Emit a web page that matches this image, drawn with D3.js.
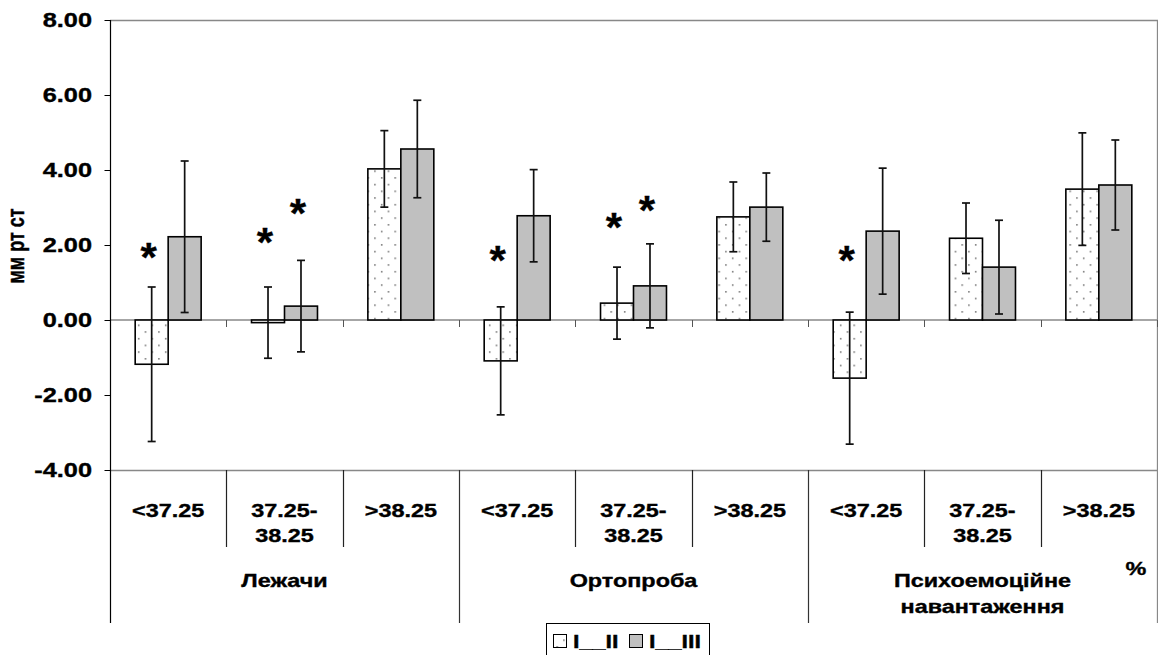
<!DOCTYPE html>
<html>
<head>
<meta charset="utf-8">
<script src="https://cdn.jsdelivr.net/npm/d3@7"></script>
<style>
  body { margin: 0; background: #fff; }
  svg { display: block; font-family: "Liberation Sans", Arial, sans-serif; font-weight: bold; }
  text { stroke: #000; stroke-width: 0.35px; }
</style>
</head>
<body>
<svg id="chart" width="1158" height="655"></svg>
<script>
// ---- data ----
const groups = ["Лежачи", "Ортопроба", "Психоемоційне навантаження"];
const subgroups = ["<37.25", "37.25-38.25", ">38.25"];
const seriesNames = ["I__II", "I__III"];
const valuesI_II  = [-1.18, -0.07, 4.03, -1.09, 0.45, 2.75, -1.55, 2.18, 3.49];
const errorsI_II  = [2.06, 0.95, 1.02, 1.44, 0.96, 0.93, 1.76, 0.94, 1.50];
const valuesI_III = [2.22, 0.37, 4.56, 2.78, 0.91, 3.01, 2.37, 1.41, 3.60];
const errorsI_III = [2.02, 1.22, 1.30, 1.23, 1.12, 0.91, 1.68, 1.25, 1.20];
const yTicks = [-4, -2, 0, 2, 4, 6, 8];
// significance marks: category index, series index, level (mm)
const starCategory = [0, 1, 1, 3, 4, 4, 6];
const starSeries   = [0, 0, 1, 0, 0, 1, 0];
const starLevel    = [1.80, 2.20, 2.95, 1.70, 2.60, 3.05, 1.70];
const yTitle = "мм рт ст";
const unitLabel = "%";

// ---- layout ----
const svg = d3.select("#chart");
const plotLeft = 110, plotRight = 1157, plotTop = 20, plotBottom = 470;
const SX = 1.3; // horizontal stretch applied to labels
const FS = 18;

const categories = [];
groups.forEach((g, gi) => subgroups.forEach((s, si) => categories.push({ g, gi, s, si, idx: gi * 3 + si })));

const y = d3.scaleLinear().domain([-4, 8]).range([plotBottom, plotTop]);
const x0 = d3.scaleBand().domain(d3.range(categories.length)).range([plotLeft, plotRight]).padding(0);
const groupFrac = 0.567;
const x1 = d3.scaleBand().domain(seriesNames).range([0, x0.bandwidth() * groupFrac]).padding(0);
const groupOffset = x0.bandwidth() * (1 - groupFrac) / 2;
const edge = i => (i < categories.length ? x0(i) : plotRight);

const series = [
  { name: seriesNames[0], values: valuesI_II, errors: errorsI_II, fill: "url(#dots)" },
  { name: seriesNames[1], values: valuesI_III, errors: errorsI_III, fill: "#c0c0c0" }
];

// dotted fill pattern
const defs = svg.append("defs");
const pat = defs.append("pattern").attr("id", "dots").attr("patternUnits", "userSpaceOnUse")
  .attr("width", 13.5).attr("height", 13.4);
pat.append("rect").attr("width", 13.5).attr("height", 13.4).attr("fill", "#fff");
pat.append("rect").attr("x", 3).attr("y", 3).attr("width", 1.4).attr("height", 1.4).attr("fill", "#555");
pat.append("rect").attr("x", 9.75).attr("y", 9.7).attr("width", 1.4).attr("height", 1.4).attr("fill", "#555");

// helper for horizontally stretched text
function label(parent, x, yy, txt, anchor, size, sx, extra) {
  return parent.append("text")
    .attr("transform", `translate(${x},${yy}) scale(${sx},1)` + (extra || ""))
    .attr("text-anchor", anchor)
    .attr("font-size", size)
    .attr("fill", "#000")
    .text(txt);
}

// plot frame (top, right, bottom)
svg.append("path")
  .attr("d", `M${plotLeft},${plotTop + 0.5}H${plotRight + 0.5}V${plotBottom + 0.5}H${plotLeft}`)
  .attr("fill", "none").attr("stroke", "#888").attr("stroke-width", 1.3);

// zero line with category ticks
svg.append("line").attr("x1", plotLeft).attr("x2", plotRight).attr("y1", y(0)).attr("y2", y(0))
  .attr("stroke", "#888").attr("stroke-width", 1.5);
d3.range(1, categories.length + 1).forEach(i => {
  const xx = Math.round(edge(i)) + 0.5;
  svg.append("line").attr("x1", xx).attr("x2", xx).attr("y1", y(0)).attr("y2", y(0) + 7)
    .attr("stroke", "#555").attr("stroke-width", 1);
});

// y axis
const yAxis = d3.axisLeft(y).tickValues(yTicks).tickSize(6).tickFormat(d => d.toFixed(2));
const ya = svg.append("g").attr("transform", `translate(${plotLeft + 0.5},0)`).call(yAxis);
ya.select(".domain").remove();
ya.selectAll(".tick line").attr("stroke", "#000");
ya.selectAll(".tick text").remove();
yTicks.forEach(t => label(svg, 92, y(t) + 7, t.toFixed(2), "end", 19.5, SX));
svg.append("line").attr("x1", plotLeft + 0.5).attr("x2", plotLeft + 0.5).attr("y1", plotTop).attr("y2", 623)
  .attr("stroke", "#000").attr("stroke-width", 1.2);

// y title
label(svg, 24, 246, yTitle, "middle", FS, SX, " rotate(-90)");

// bars
series.forEach(s => {
  svg.append("g").selectAll("rect").data(categories).join("rect")
    .attr("x", d => x0(d.idx) + groupOffset + x1(s.name))
    .attr("width", x1.bandwidth())
    .attr("y", d => y(Math.max(0, s.values[d.idx])))
    .attr("height", d => Math.abs(y(s.values[d.idx]) - y(0)))
    .attr("fill", s.fill)
    .attr("stroke", "#000").attr("stroke-width", 1.6);
});

// error bars
series.forEach(s => {
  const g = svg.append("g").attr("stroke", "#111").attr("stroke-width", 1.7);
  categories.forEach(d => {
    const cx = x0(d.idx) + groupOffset + x1(s.name) + x1.bandwidth() / 2;
    const v = s.values[d.idx], e = s.errors[d.idx];
    const yT = y(v + e), yB = y(v - e);
    g.append("line").attr("x1", cx).attr("x2", cx).attr("y1", yT).attr("y2", yB);
    g.append("line").attr("x1", cx - 4).attr("x2", cx + 4).attr("y1", yT).attr("y2", yT);
    g.append("line").attr("x1", cx - 4).attr("x2", cx + 4).attr("y1", yB).attr("y2", yB);
  });
});

// significance asterisks
starCategory.forEach((c, i) => {
  const s = series[starSeries[i]];
  const cx = x0(c) + groupOffset + x1(s.name) + x1.bandwidth() / 2 - 3;
  label(svg, cx, y(starLevel[i]) + 18, "*", "middle", 40, 1.05);
});

// category axis: sub-labels and dividers
categories.forEach(d => {
  const cx = x0(d.idx) + x0.bandwidth() / 2;
  const parts = d.s === "37.25-38.25" ? ["37.25-", "38.25"] : [d.s];
  parts.forEach((p, j) => label(svg, cx, 517 + j * 25, p, "middle", FS, SX));
});
d3.range(1, categories.length).forEach(i => {
  const xx = Math.round(x0(i)) + 0.5;
  const isGroup = i % 3 === 0;
  svg.append("line").attr("x1", xx).attr("x2", xx).attr("y1", plotBottom)
    .attr("y2", isGroup ? 623 : 547)
    .attr("stroke", isGroup ? "#333" : "#222").attr("stroke-width", 1.2);
});
svg.append("line").attr("x1", plotRight + 0.5).attr("x2", plotRight + 0.5).attr("y1", plotBottom).attr("y2", 623)
  .attr("stroke", "#888").attr("stroke-width", 1.3);

// group labels
groups.forEach((g, gi) => {
  const cx = (x0(gi * 3) + edge(gi * 3 + 3)) / 2;
  const parts = g.split(" ");
  parts.forEach((p, j) => label(svg, cx, 587 + j * 26, p, "middle", FS, SX));
});
label(svg, 1136, 575, unitLabel, "middle", FS, SX);

// legend
const lg = svg.append("g");
lg.append("rect").attr("x", 546.5).attr("y", 623.5).attr("width", 163).attr("height", 40)
  .attr("fill", "#fff").attr("stroke", "#000").attr("stroke-width", 1);
const legendX = [553, 629];
series.forEach((s, k) => {
  lg.append("rect").attr("x", legendX[k] + 0.5).attr("y", 634.5).attr("width", 13).attr("height", 13)
    .attr("fill", s.fill).attr("stroke", "#000").attr("stroke-width", 1);
  label(lg, legendX[k] + 20, 648, s.name, "start", FS, SX);
});
</script>
</body>
</html>
